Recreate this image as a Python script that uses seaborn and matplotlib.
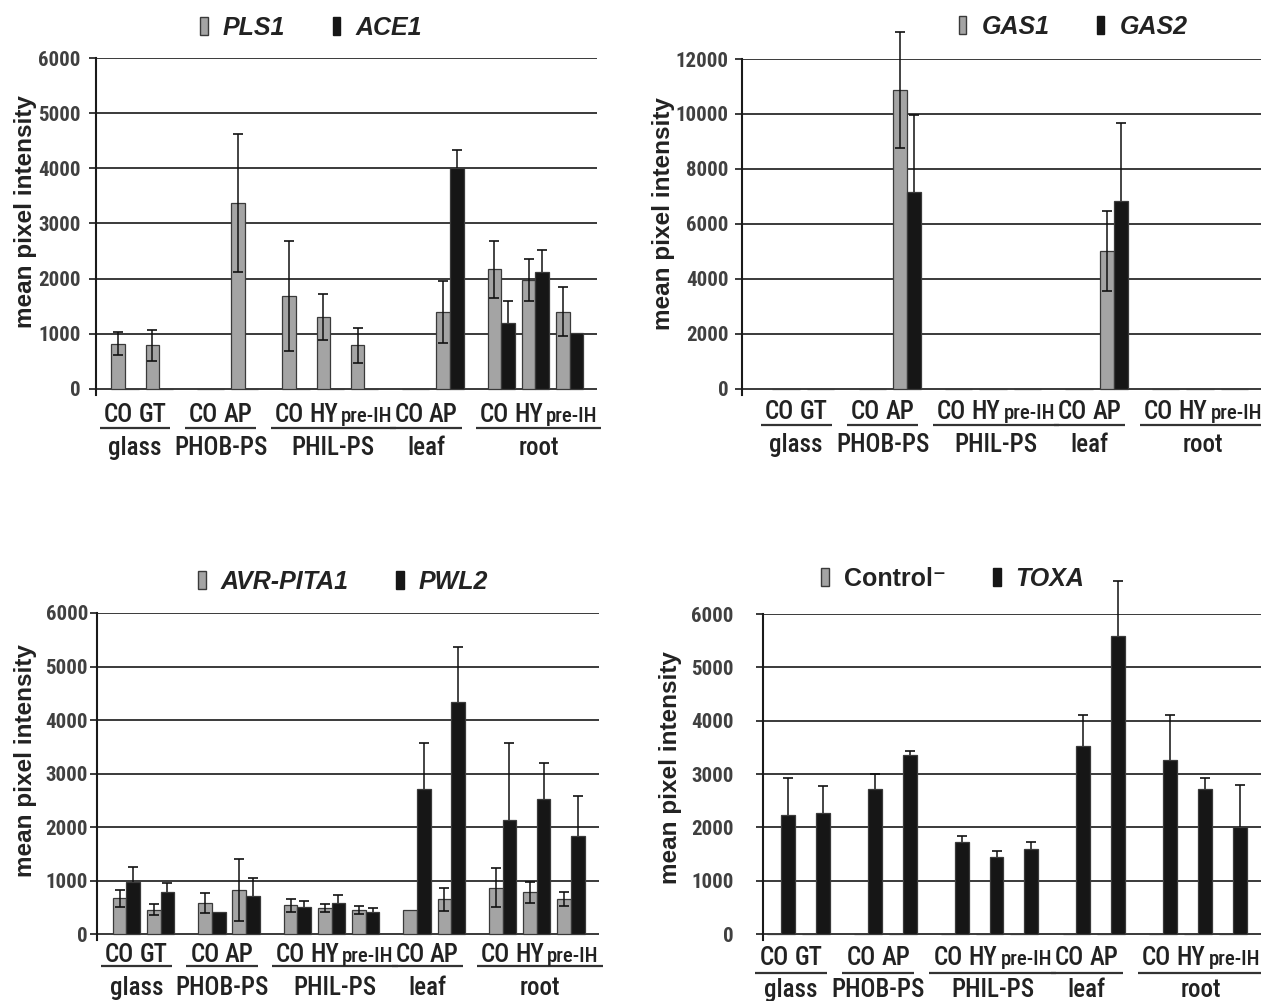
import numpy as np
import pandas as pd
import matplotlib
matplotlib.use("Agg")
import matplotlib.pyplot as plt
import seaborn as sns
from matplotlib.patches import Patch
from matplotlib.font_manager import FontProperties
from matplotlib.transforms import blended_transform_factory, ScaledTranslation

sns.set_style("white")
NARROW = ['Roboto Condensed', 'Archivo Narrow', 'Liberation Sans', 'DejaVu Sans']
SANS = ['Liberation Sans', 'DejaVu Sans']
plt.rcParams['font.family'] = SANS

nan = np.nan

# ---------------- data ----------------
groups = ["glass", "PHOB-PS", "PHIL-PS", "leaf", "root"]
group_members = [["CO", "GT"], ["CO", "AP"], ["CO", "HY", "pre-IH"],
                 ["CO", "AP"], ["CO", "HY", "pre-IH"]]

# panel A: PLS1 / ACE1
pls1_mean = [820, 790, 0, 3370, 1680, 1310, 790, 0, 1400, 2170, 1980, 1400]
pls1_sd = [210, 280, nan, 1250, 1000, 420, 320, nan, 560, 520, 380, 440]
ace1_mean = [0, 0, 0, 0, 0, 0, 0, 0, 4000, 1200, 2120, 1010]
ace1_sd = [nan, nan, nan, nan, nan, nan, nan, nan, 330, 400, 400, nan]

# panel B: GAS1 / GAS2
gas1_mean = [0, 0, 0, 10870, 0, 0, 0, 0, 5030, 0, 0, 0]
gas1_sd = [nan, nan, nan, 2120, nan, nan, nan, nan, 1450, nan, nan, nan]
gas2_mean = [0, 0, 0, 7150, 0, 0, 0, 0, 6840, 0, 0, 0]
gas2_sd = [nan, nan, nan, 2800, nan, nan, nan, nan, 2820, nan, nan, nan]

# panel C: AVR-PITA1 / PWL2
avr_mean = [670, 460, 585, 830, 540, 490, 450, 450, 650, 870, 780, 650]
avr_sd = [160, 100, 190, 580, 125, 80, 80, nan, 220, 370, 200, 130]
pwl2_mean = [980, 790, 410, 710, 500, 580, 420, 2710, 4340, 2130, 2530, 1840]
pwl2_sd = [270, 170, nan, 330, 120, 160, 75, 870, 1030, 1450, 670, 750]

# panel D: Control- / TOXA
ctrl_mean = [0] * 12
ctrl_sd = [nan] * 12
toxa_mean = [2225, 2270, 2725, 3350, 1725, 1440, 1600, 3520, 5580, 3270, 2725, 2000]
toxa_sd = [700, 500, 275, 90, 120, 110, 120, 580, 1030, 830, 200, 800]

# ---------------- style ----------------
GRAY = '#a4a4a4'
BLACK = '#161616'
EDGE = '#3a3a3a'
GRID = '#3a3a3a'
TXT = '#222222'

W, H = 1261, 1001
fig = plt.figure(figsize=(W / 100, H / 100), dpi=100)
fig.patch.set_facecolor('white')

# category positions: one unit per category, extra half unit between groups
positions = []
xcur = 0.0
for members in group_members:
    for _ in members:
        positions.append(xcur)
        xcur += 1.0
    xcur += 0.5

panels = [
    dict(names=["PLS1", "ACE1"], m1=pls1_mean, s1=pls1_sd, m2=ace1_mean, s2=ace1_sd,
         box=(96, 597, 58, 395), ymax=6000, step=1000, xlim=(-0.85, 13.8),
         rows=(18, 33, 51), leg=(0.429, 30), pad=6, ylab=(-0.118, 0.543),
         italic=[True, True]),
    dict(names=["GAS1", "GAS2"], m1=gas1_mean, s1=gas1_sd, m2=gas2_mean, s2=gas2_sd,
         box=(742, 1261, 59, 395), ymax=12000, step=2000, xlim=(-1.28, 13.77),
         rows=(15, 30, 48), leg=(0.638, 32), pad=4.5, ylab=(-0.129, 0.54),
         italic=[True, True]),
    dict(names=["AVR-PITA1", "PWL2"], m1=avr_mean, s1=avr_sd, m2=pwl2_mean, s2=pwl2_sd,
         box=(97, 599, 613, 940), ymax=6000, step=1000, xlim=(-0.86, 13.82),
         rows=(13, 26, 46), leg=(0.49, 31), pad=1.5, ylab=(-0.12, 0.55),
         italic=[True, True]),
    dict(names=["Control\u207b", "TOXA"], m1=ctrl_mean, s1=ctrl_sd, m2=toxa_mean, s2=toxa_sd,
         box=(763, 1261, 614, 940), ymax=6000, step=1000, xlim=(-0.52, 13.81),
         rows=(16, 33, 48), leg=(0.381, 35), pad=16, ylab=(-0.163, 0.528),
         italic=[False, True]),
]

label_texts = []

for P in panels:
    l, r, t, b = P["box"]
    ax = fig.add_axes([l / W, 1 - b / H, (r - l) / W, (b - t) / H])
    names = P["names"]
    df = pd.DataFrame({
        "pos": positions + positions,
        "value": list(P["m1"]) + list(P["m2"]),
        "series": [names[0]] * 12 + [names[1]] * 12,
    })
    sns.barplot(data=df, x="pos", y="value", hue="series", hue_order=names,
                palette={names[0]: GRAY, names[1]: BLACK}, native_scale=True,
                width=0.8, dodge=True, errorbar=None, legend=False, ax=ax,
                edgecolor=EDGE, linewidth=0.9, zorder=2, saturation=1)

    conts = list(ax.containers)
    # gray series: error bar drawn over the bar; black series: behind the bar
    for cont, sd, z in zip(conts, [P["s1"], P["s2"]], [4, 1.5]):
        bars = sorted(cont.patches, key=lambda p: p.get_x())
        for bar, e in zip(bars, sd):
            if np.isnan(e):
                continue
            xc = bar.get_x() + bar.get_width() / 2
            eb = ax.errorbar(xc, bar.get_height(), yerr=e, fmt='none', ecolor='#111111',
                             elinewidth=1.1, capsize=3.8, capthick=1.2, zorder=z)
            for a in tuple(eb.lines[1]) + tuple(eb.lines[2]):
                a.set_clip_on(False)
                a.set_zorder(z)

    ymax, step = P["ymax"], P["step"]
    ybot = -ymax * 0.0183
    ax.set_ylim(ybot, ymax)
    ax.set_xlim(*P["xlim"])
    ticks = np.arange(0, ymax + 1, step)
    ax.set_yticks(ticks)
    ax.set_yticklabels([str(int(v)) for v in ticks], fontfamily=NARROW,
                       fontsize=15, fontweight='bold', color='#404040')
    ax.tick_params(axis='y', direction='out', length=5, width=1.4, color=GRID,
                   pad=P["pad"], left=True)
    ax.set_xticks([])
    ax.set_xlabel("")
    ax.yaxis.grid(True, color=GRID, linewidth=1.4)
    ax.xaxis.grid(False)
    ax.set_axisbelow(True)
    ax.set_facecolor('white')
    for s in ['top', 'right', 'bottom']:
        ax.spines[s].set_visible(False)
    ax.spines['left'].set_color('#1a1a1a')
    ax.spines['left'].set_linewidth(1.5)

    ax.set_ylabel("mean pixel intensity", fontsize=17.5, fontweight='bold', color=TXT)
    ax.yaxis.set_label_coords(*P["ylab"])

    # legend
    handles = [Patch(facecolor=GRAY, edgecolor=EDGE, linewidth=1.0),
               Patch(facecolor=BLACK, edgecolor=BLACK, linewidth=1.0)]
    height_px = b - t
    leg = ax.legend(handles, names, loc='center',
                    bbox_to_anchor=(P["leg"][0], 1 + P["leg"][1] / height_px),
                    ncol=2, frameon=False, handlelength=0.3, handleheight=0.75,
                    handletextpad=0.6, columnspacing=1.9, borderaxespad=0,
                    prop=FontProperties(family=SANS, weight='bold', style='italic', size=18))
    for txt, it in zip(leg.get_texts(), P["italic"]):
        txt.set_color(TXT)
        if not it:
            txt.set_fontstyle('normal')

    # category labels
    row_cat, row_line, row_grp = P["rows"]
    half_cap = 8.8
    base = blended_transform_factory(ax.transData, ax.transAxes)
    tf_cat = base + ScaledTranslation(0, -(row_cat + half_cap) / fig.dpi, fig.dpi_scale_trans)
    tf_line = base + ScaledTranslation(0, -row_line / fig.dpi, fig.dpi_scale_trans)
    tf_grp = base + ScaledTranslation(0, -(row_grp + half_cap) / fig.dpi, fig.dpi_scale_trans)
    k = 0
    for gname, members in zip(groups, group_members):
        texts = []
        for m in members:
            if m == "pre-IH":
                tx = ax.text(positions[k] + 0.06, 0, m, transform=tf_cat, ha='center',
                             va='baseline', fontsize=15, fontfamily=NARROW, color=TXT,
                             fontweight='medium', clip_on=False)
            else:
                tx = ax.text(positions[k] - 0.2, 0, m, transform=tf_cat, ha='center',
                             va='baseline', fontsize=18, fontfamily=NARROW, color=TXT,
                             fontweight='medium', clip_on=False)
            texts.append(tx)
            k += 1
        label_texts.append((ax, texts, gname, tf_line, tf_grp))

fig.canvas.draw()
renderer = fig.canvas.get_renderer()
for ax, texts, gname, tf_line, tf_grp in label_texts:
    x0 = texts[0].get_window_extent(renderer).x0 - 4
    x1 = texts[-1].get_window_extent(renderer).x1 + 4
    inv = ax.transData.inverted()
    dx0 = inv.transform((x0, 0))[0]
    dx1 = inv.transform((x1, 0))[0]
    ax.plot([dx0, dx1], [0, 0], transform=tf_line, color='#333333', lw=1.6,
            clip_on=False, solid_capstyle='butt')
    ax.text((dx0 + dx1) / 2, 0, gname, transform=tf_grp, ha='center', va='baseline',
            fontsize=18, fontfamily=NARROW, color=TXT, fontweight='medium',
            clip_on=False)

fig.savefig("out.png", dpi=100, facecolor='white')
